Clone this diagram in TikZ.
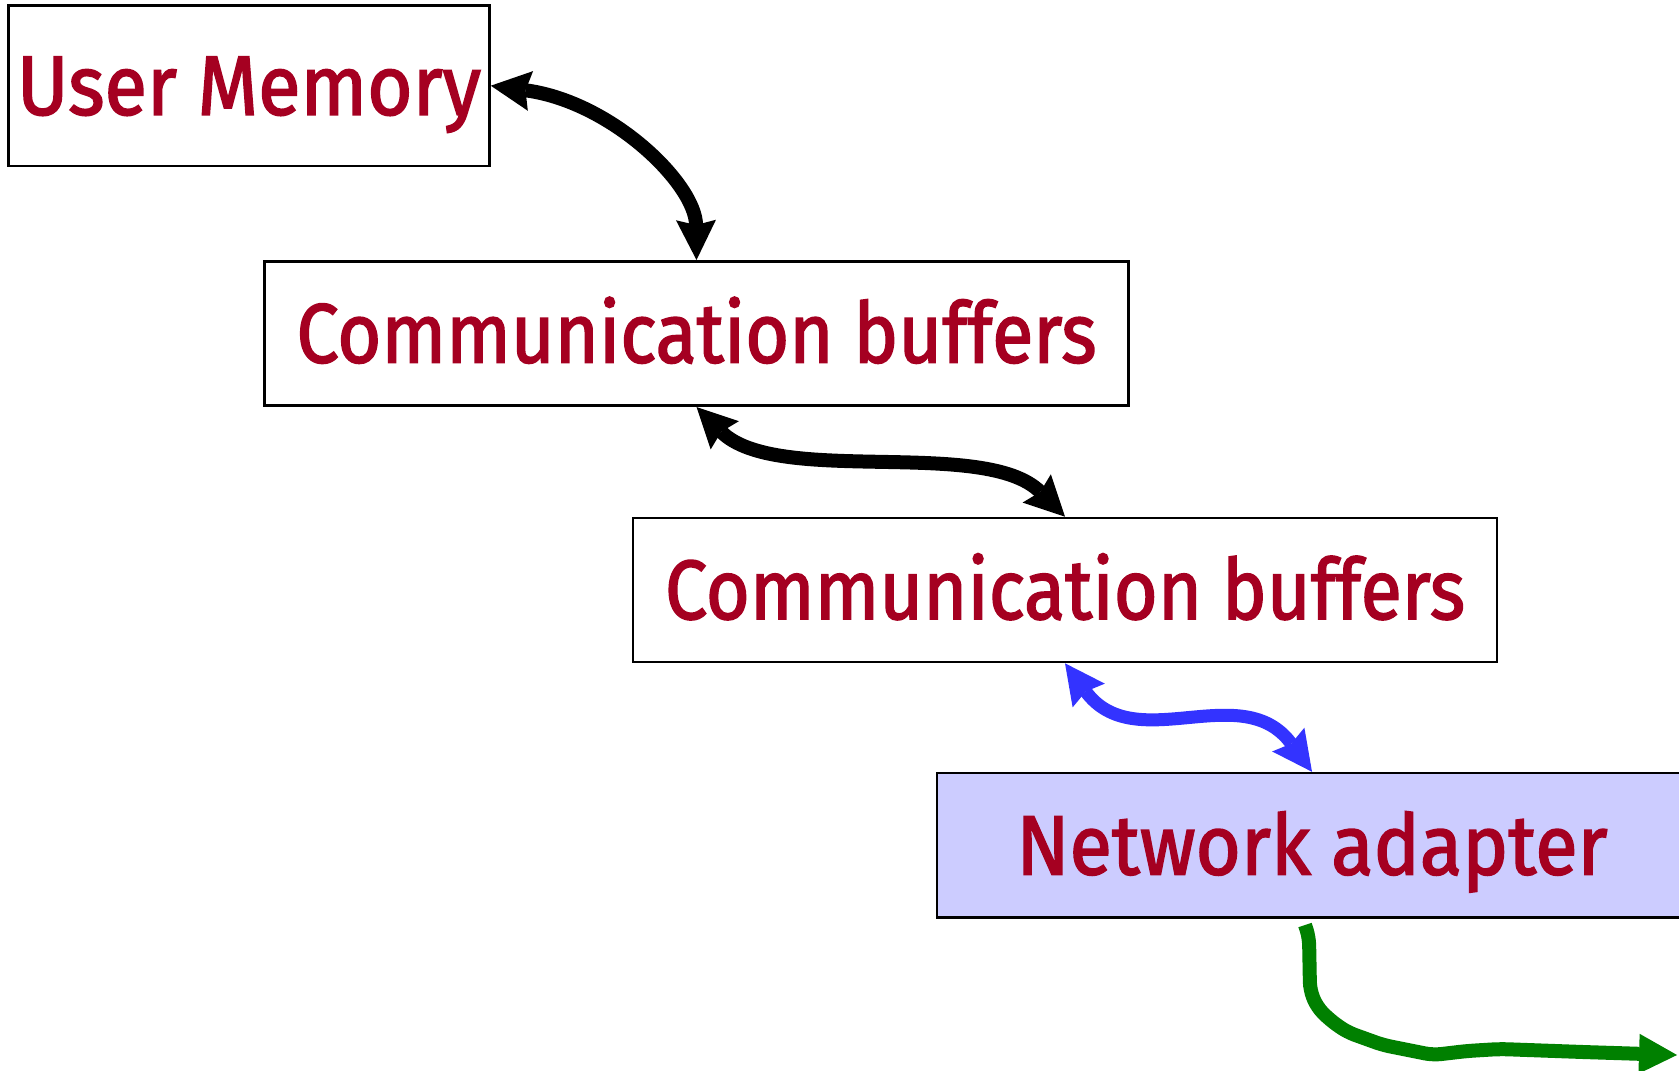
\documentclass[tikz,border=0pt]{standalone}
\usepackage{fontspec}
\setmainfont{Fira Sans}
\newfontfamily\labelfont{Fira Sans}[FakeBold=2]
\usetikzlibrary{arrows.meta,calc}
\definecolor{labelred}{RGB}{165,0,33}
\definecolor{adapterfill}{RGB}{204,204,255}
\definecolor{linkblue}{RGB}{51,51,255}
\definecolor{wiregreen}{RGB}{0,128,0}
% label text: fixed size, stretched horizontally to the given width
\newcommand{\boxlabel}[2]{\resizebox{#1}{\height}{\labelfont\fontsize{42}{48}\selectfont #2}}
\begin{document}
\begin{tikzpicture}[x=0.5pt,y=-0.5pt,
  unit/.style={draw=black, line width=1.3pt, inner sep=0pt, text=labelred,
    text height=29pt, text depth=0pt},
  linktip/.tip={Stealth[length=20pt,width=20pt,inset=2.5pt,line width=0pt]},
  copylink/.style={line width=7pt, black, linktip-linktip},
  dmalink/.style={line width=6.5pt, linkblue, linktip-linktip},
  wire/.style={line width=7pt, wiregreen, rounded corners=4pt,
    -{Triangle[length=19pt,width=20pt,line width=0pt]}}
]
\useasboundingbox (0,0) rectangle (1679,1070);
\fill[white] (0,0) rectangle (1679,1070);

% memory hierarchy boxes
\node[unit, minimum width=240.5pt, minimum height=80.3pt] (mem) at (249,85.7)
  {\boxlabel{232pt}{User Memory}};
\node[unit, minimum width=432pt, minimum height=72.2pt] (buf1) at (696.5,333.5)
  {\boxlabel{400pt}{Communication buffers}};
\node[unit, minimum width=432pt, minimum height=72pt] (buf2) at (1065,590)
  {\boxlabel{400pt}{Communication buffers}};
\node[unit, fill=adapterfill, minimum width=375pt, minimum height=72.3pt] (nic) at (1312,845.4)
  {\boxlabel{295.5pt}{Network adapter}};

% copies between the levels
\draw[copylink] (mem.east)
  .. controls ($(mem.east)+(121,16)$) and ($(buf1.north)+(-1,-76)$) .. (buf1.north);
\draw[copylink] (buf1.south)
  .. controls ($(buf1.south)+(80,80)$) and ($(buf2.north)+(-80,-80)$) .. (buf2.north);
\draw[dmalink] (buf2.south)
  .. controls ($(buf2.south)+(70,95)$) and ($(nic.north)+(-70,-95)$) .. (nic.north);

% outgoing wire
\coordinate (w0) at (1305,925);
\coordinate (w1) at (1309,937);
\coordinate (w2) at (1310,990);
\coordinate (w3) at (1317,1007);
\coordinate (w4) at (1330,1020);
\coordinate (w5) at (1347,1032);
\coordinate (w6) at (1383,1045);
\coordinate (w7) at (1433,1055);
\coordinate (w8) at (1467,1051);
\coordinate (w9) at (1500,1049);
\coordinate (w10) at (1583,1052);
\coordinate (wend) at (1677,1055);
\draw[wire] (w0) -- (w1) -- (w2) -- (w3) -- (w4) -- (w5) -- (w6) -- (w7) -- (w8) -- (w9) -- (w10) -- (wend);
\end{tikzpicture}
\end{document}
